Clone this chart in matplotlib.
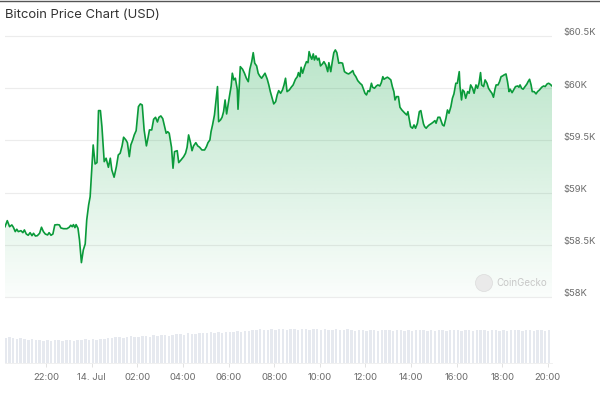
"""Bitcoin 24h price chart (CoinGecko style) with volume strip."""

import matplotlib

matplotlib.use("Agg")
import matplotlib.dates as mdates
import matplotlib.pyplot as plt
import matplotlib.transforms as mtransforms
import numpy as np
import pandas as pd
from matplotlib.lines import Line2D
from matplotlib.patches import Ellipse

plt.rcParams["font.family"] = ["Inter", "DejaVu Sans"]

START = "2024-07-13 20:10"

# minutes after START
minutes = [
    2, 8, 14, 20, 24, 29, 33, 37, 44, 49, 53, 58, 63, 68, 73, 77, 82, 87, 93, 98,
    103, 108, 114, 118, 123, 128, 133, 140, 145, 149, 156, 165, 171, 175, 179, 182, 186, 189, 194, 198,
    203, 208, 213, 217, 222, 226, 231, 234, 239, 244, 248, 253, 257, 263, 268, 274, 279,
    283, 289, 295, 300, 305, 310, 314, 320, 324, 329, 333, 338, 342, 347, 353, 358, 363, 368, 374, 378,
    382, 388, 393, 398, 403, 407, 412, 417, 422, 426, 430, 434, 440, 444, 448, 455, 459, 465, 472, 477,
    481, 485, 490, 494, 498, 504, 509, 514, 520, 527, 532, 536, 541, 544, 548, 553, 558, 561, 564, 569,
    573, 577, 581, 585, 590, 593, 597, 600, 604, 608, 613, 615, 619, 621, 627, 632, 637, 642, 646, 651,
    655, 659, 664, 668, 672, 677, 681, 686, 692, 696, 700, 705, 709, 714, 718, 722, 727, 732, 736, 740,
    744, 750, 755, 760, 766, 771, 774, 778, 781, 785, 790, 795, 799, 802, 806, 809, 813, 816, 820, 824,
    828, 832, 837, 841, 846, 851, 854, 859,
    863, 867, 871, 875, 880, 885, 890, 895, 901, 906, 911, 917, 920, 925, 930, 936, 941, 945, 949, 953,
    957, 961, 966, 969, 974, 979, 983, 988, 992, 996, 999, 1003, 1008, 1012, 1017, 1021, 1025, 1028, 1032, 1037,
    1041, 1046, 1050, 1054, 1059, 1062, 1066, 1069, 1074, 1078, 1082, 1087, 1092, 1096, 1099, 1103, 1106, 1110, 1113, 1118,
    1122, 1127, 1133, 1136, 1141, 1146,
    1153, 1157, 1162, 1166, 1170, 1175, 1179, 1183, 1188, 1192, 1197, 1199, 1203, 1206, 1210, 1214, 1219, 1223, 1227, 1232,
    1236, 1241, 1245, 1249, 1253, 1256, 1261, 1265, 1270, 1274, 1278, 1283, 1287, 1291, 1294, 1299, 1303, 1307, 1311, 1315,
    1320, 1324, 1328, 1331, 1336, 1340, 1345, 1351, 1354, 1357, 1361, 1365, 1370, 1375, 1378, 1382, 1386, 1389, 1394, 1399,
    1403, 1408, 1414, 1419, 1423, 1428, 1432, 1436, 1441,
]

price = [
    58673, 58731, 58673, 58690, 58668, 58626, 58649, 58626, 58635, 58616, 58642, 58603, 58591, 58616, 58587, 58610, 58584, 58587, 58610, 58668,
    58626, 58603, 58594, 58616, 58591, 58603, 58690, 58693, 58690, 58661, 58654, 58654, 58668, 58687, 58673, 58693, 58664, 58693, 58658, 58546,
    58329, 58450, 58508, 58738, 58881, 58961, 59281, 59456, 59274, 59287, 59785, 59785, 59631, 59296, 59329, 59242, 59329,
    59217, 59147, 59248, 59360, 59377, 59447, 59530, 59504, 59478, 59344, 59456, 59504, 59552, 59593, 59823, 59849, 59839, 59600, 59447, 59520,
    59600, 59600, 59702, 59721, 59676, 59721, 59734, 59708, 59631, 59568, 59583, 59568, 59434, 59233, 59392, 59401, 59287, 59312, 59344, 59377,
    59434, 59552, 59478, 59401, 59447, 59478, 59447, 59434, 59408, 59408, 59440, 59478, 59504, 59583, 59648, 59743, 59919, 60015, 59679, 59696,
    59721, 59775, 59887, 59753, 59871, 59935, 60021, 60143, 60079, 60095, 59990, 59798, 60079, 60206, 60181, 60143, 60095, 60062, 60181, 60254,
    60340, 60239, 60213, 60143, 60117, 60095, 60117, 60143, 60085, 60031, 59967, 59903, 59849, 59871, 59935, 59976, 59951, 59983, 60031, 60095,
    59967, 59983, 60009, 60031, 60085, 60110, 60149, 60110, 60200, 60143, 60206, 60254, 60244, 60350, 60302, 60277, 60328, 60270, 60309, 60270,
    60287, 60213, 60232, 60254, 60222, 60158, 60244, 60158,
    60254, 60340, 60366, 60340, 60239, 60244, 60239, 60158, 60143, 60136, 60149, 60168, 60136, 60110, 60072, 60047, 60031, 59990, 59951, 59935,
    59976, 59967, 60047, 60009, 59999, 60021, 60031, 60021, 60053, 60110, 60085, 60095, 60105, 60095, 60079, 60015, 59967, 59887, 59919, 59919,
    59817, 59791, 59775, 59760, 59743, 59775, 59696, 59631, 59616, 59648, 59616, 59664, 59775, 59785, 59727, 59657, 59631, 59616, 59631, 59648,
    59657, 59670, 59689, 59664, 59721, 59721,
    59648, 59638, 59712, 59791, 59760, 59823, 59903, 59945, 60047, 60047, 60158, 60015, 59887, 59983, 59967, 59903, 59967, 59951, 60031, 59999,
    59951, 60031, 59999, 60047, 60149, 60031, 60015, 60079, 60047, 59999, 59976, 59951, 59913, 59990, 60031, 60031, 60062, 60110, 60117, 60127,
    60136, 60062, 59967, 59990, 59957, 59983, 60015, 60021, 60009, 60031, 59999, 59990, 60015, 60040, 60062, 60085, 60031, 59967, 59967, 59945,
    59967, 59983, 60009, 60021, 60015, 60040, 60047, 60038, 60021,
]

# relative volume, one bar per 10 minutes from START
volume = [
    25, 26, 25, 24, 25, 24, 23, 24, 23, 23,
    22, 23, 22, 23, 23, 22, 23, 23, 22, 23, 23, 24, 23,
    24, 23, 24, 24, 25,
    25, 26, 26, 25, 26, 27, 26, 26,
    27, 27, 26, 28, 27, 28, 28, 27,
    28, 29, 29, 28, 30, 29, 29, 30,
    30, 30, 31, 30, 31, 30, 31, 31,
    31, 32, 31, 32, 32,
    33, 33, 34, 33, 33, 34, 33, 34, 34, 33, 34, 34, 33,
    34, 34, 33, 34, 34, 33, 34, 33, 33, 34, 33, 33, 34,
    33, 32, 33, 33, 32, 33, 33, 32, 33, 33, 33, 32, 33, 33, 32, 33, 32, 33, 33, 33, 32, 33, 32, 33, 33, 32, 33,
    33, 33, 32, 33, 33, 32, 33, 33, 33, 32, 33, 33, 32, 33, 32, 33, 33, 33, 32, 33, 33, 32, 33, 33, 32, 33,
]
VOL_STEP_MIN = 10

price_ticks = [58000, 58500, 59000, 59500, 60000, 60500]
price_labels = ["$58K", "$58.5K", "$59K", "$59.5K", "$60K", "$60.5K"]

GREEN = "#0a9a3a"
GRID = "#ececec"
TICK_TEXT = "#6b6b6b"
VOL_COLOR = "#e6e9ef"

W, H = 600, 396
fig = plt.figure(figsize=(W / 100, H / 100), dpi=100)


def px_axes(x0, y0, x1, y1):
    return fig.add_axes([x0 / W, 1 - y1 / H, (x1 - x0) / W, (y1 - y0) / H])


start = pd.Timestamp(START)
t = mdates.date2num(start + pd.to_timedelta(minutes, unit="min"))
tv = mdates.date2num(start + pd.to_timedelta(np.arange(len(volume)) * VOL_STEP_MIN, unit="min"))
xlim = (t[0], t[-1])

# --- price panel ---
ax = px_axes(5, 30, 552, 300)
ylo, yhi = 57971, 60557
base = 58000

ax.plot(t, price, color=GREEN, linewidth=1.2, zorder=3, solid_joinstyle="round")
poly = ax.fill_between(t, price, base, facecolor="none", edgecolor="none")
grad = np.zeros((256, 1, 4))
grad[..., :3] = matplotlib.colors.to_rgb("#17a84a")
grad[..., 3] = np.linspace(0.02, 0.30, 256)[:, None]
im = ax.imshow(grad, aspect="auto", origin="lower", extent=[xlim[0], xlim[1], base, 60400], zorder=2)
im.set_clip_path(poly.get_paths()[0], transform=ax.transData)

ax.set_xlim(*xlim)
ax.set_ylim(ylo, yhi)
ax.set_yticks(price_ticks)
ax.set_yticklabels(price_labels)
ax.yaxis.tick_right()
ax.tick_params(axis="y", length=0, pad=8, labelsize=6.8, labelcolor=TICK_TEXT)
ax.set_xticks([])
ax.yaxis.grid(True, color=GRID, linewidth=0.8)
ax.set_axisbelow(True)
for s in ax.spines.values():
    s.set_visible(False)
shift = mtransforms.ScaledTranslation(0, 0.04, fig.dpi_scale_trans)
for lbl in ax.get_yticklabels():
    lbl.set_transform(lbl.get_transform() + shift)

# --- volume strip ---
vax = px_axes(5, 323, 552, 363)
vax.bar(tv, volume, width=VOL_STEP_MIN / 1440 * 0.65, align="edge", color=VOL_COLOR, linewidth=0)
vax.set_xlim(*xlim)
vax.set_ylim(0, 40)
vax.set_yticks([])
for name, s in vax.spines.items():
    s.set_visible(name == "bottom")
vax.spines["bottom"].set_color("#eeeeee")
vax.spines["bottom"].set_linewidth(0.6)
vax.xaxis.set_major_locator(mdates.HourLocator(byhour=range(0, 24, 2)))


def fmt_hour(x, pos=None):
    d = mdates.num2date(x)
    if d.hour == 0:
        return f"{d.day}. {d.strftime('%b')}"
    return d.strftime("%H:%M")


vax.xaxis.set_major_formatter(plt.FuncFormatter(fmt_hour))
vax.tick_params(axis="x", length=3, width=0.6, color="#dddddd", pad=4, labelsize=6.8, labelcolor=TICK_TEXT)

# --- title, frame, watermark ---
fig.text(5 / W, 1 - 15 / H, "Bitcoin Price Chart (USD)", fontsize=9.4, color="#333333", va="center")
fig.add_artist(Line2D([0, 1], [1 - 0.6 / H] * 2, color="#555555", linewidth=1.0))
fig.add_artist(Ellipse((484 / W, 1 - 283 / H), 17 / W, 17 / H, transform=fig.transFigure,
                       facecolor="#e9e9e9", edgecolor="#dddddd", linewidth=0.6, alpha=0.9))
fig.text(496 / W, 1 - 283 / H, "CoinGecko", fontsize=7, color="#c8c8c8", va="center")

fig.savefig("out.png", dpi=100)
